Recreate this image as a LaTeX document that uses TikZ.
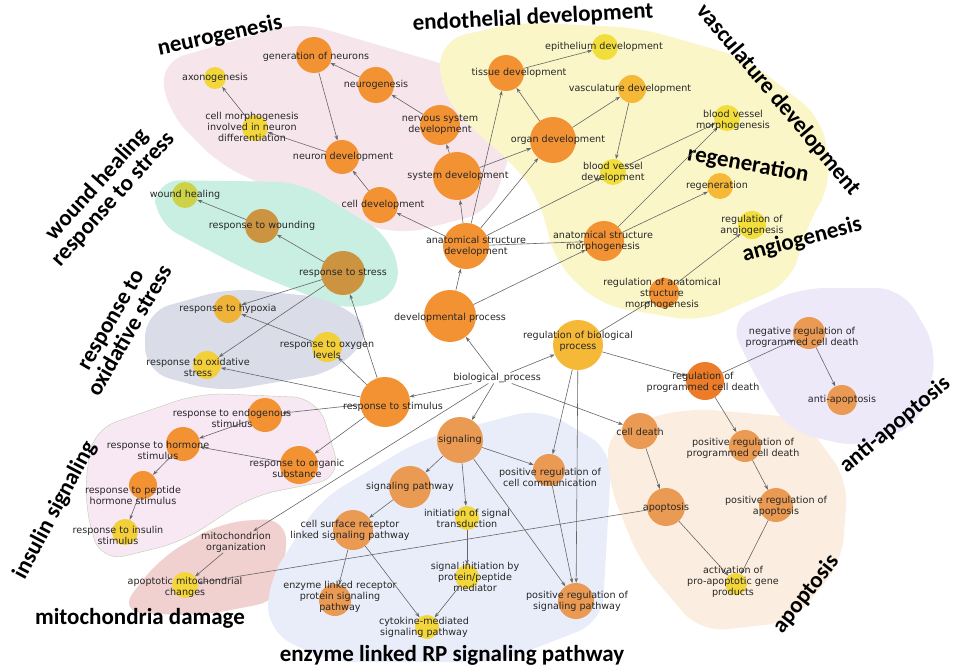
\documentclass[tikz,border=0pt]{standalone}
\usepackage{fontspec}
\setmainfont{DejaVu Sans}
\newfontfamily\headfont{Carlito}
\usetikzlibrary{arrows.meta}
\definecolor{gorange}{RGB}{243,146,51}
\definecolor{gdark}{RGB}{236,124,40}
\definecolor{ggold}{RGB}{245,184,55}
\definecolor{gyellow}{RGB}{242,222,58}
\definecolor{gbrown}{RGB}{204,148,64}
\definecolor{glight}{RGB}{234,154,82}
\definecolor{gwound}{RGB}{205,210,70}
\definecolor{bneuro}{RGB}{246,230,236}
\definecolor{bvasc}{RGB}{251,246,200}
\definecolor{bwound}{RGB}{200,239,226}
\definecolor{boxid}{RGB}{218,221,232}
\definecolor{binsul}{RGB}{248,232,243}
\definecolor{binsuledge}{RGB}{190,205,170}
\definecolor{bmito}{RGB}{241,208,208}
\definecolor{benzyme}{RGB}{233,237,249}
\definecolor{bapop}{RGB}{251,238,224}
\definecolor{banti}{RGB}{237,233,249}
\tikzset{
  go/.style={circle,draw=none,fill=#1,inner sep=0pt},
  lbl/.style={font=\fontsize{9.6}{11}\selectfont,align=center,inner sep=0.5pt,text=black!85},
  edge/.style={draw=black!60,line width=0.6pt,-{Stealth[length=5pt,width=3.5pt]}},
  head/.style={font=\headfont\bfseries\fontsize{23}{22}\selectfont,align=center},
  blob/.style={draw=none,fill=#1,rounded corners=25pt}
}
\begin{document}
\begin{tikzpicture}[x=1pt,y=1pt,yscale=-1]
\useasboundingbox (0,0) rectangle (959,669);
\fill[white] (0,0) rectangle (959,669);
% regions
\path[blob=bneuro] (160,62) -- (300,22) -- (470,72) -- (515,140) -- (490,212) -- (400,235) -- (320,210) -- (220,165) -- (168,112) -- cycle;
\path[blob=bvasc] (440,40) -- (520,22) -- (640,28) -- (745,58) -- (822,118) -- (832,182) -- (805,230) -- (792,282) -- (700,322) -- (600,305) -- (555,262) -- (540,200) -- (515,165) -- (478,135) -- (440,92) -- cycle;
\path[blob=bwound] (155,180) -- (300,182) -- (392,238) -- (402,292) -- (350,312) -- (250,272) -- (155,222) -- cycle;
\path[blob=boxid] (145,312) -- (230,288) -- (330,298) -- (375,330) -- (335,372) -- (220,392) -- (145,372) -- cycle;
\path[blob=binsul,draw=binsuledge] (92,430) -- (200,393) -- (318,398) -- (342,478) -- (252,496) -- (182,542) -- (100,562) -- (84,500) -- cycle;
\path[blob=bmito] (160,558) -- (222,522) -- (288,518) -- (282,600) -- (200,616) -- (118,612) -- cycle;
\path[blob=benzyme] (268,582) -- (320,500) -- (420,440) -- (540,408) -- (612,450) -- (602,622) -- (500,662) -- (330,662) -- (268,632) -- cycle;
\path[blob=bapop] (608,428) -- (690,408) -- (802,418) -- (848,480) -- (842,562) -- (792,622) -- (700,632) -- (640,562) -- (608,482) -- cycle;
\path[blob=banti] (728,320) -- (800,288) -- (902,288) -- (938,350) -- (922,422) -- (862,448) -- (790,432) -- (758,382) -- cycle;
% headings
\node[head,rotate=12] at (220,36) {neurogenesis};
\node[head,rotate=3] at (533,18) {endothelial development};
\node[head,rotate=-50] at (778,100) {vasculature development};
\node[head,rotate=-10] at (748,165) {regeneration};
\node[head,rotate=15] at (802,240) {angiogenesis};
\node[head,rotate=48] at (105,192) {wound healing\\response to stress};
\node[head,rotate=60] at (120,325) {response to\\oxidative stress};
\node[head,rotate=62] at (55,510) {insulin signaling};
\node[head] at (140,618) {mitochondria damage};
\node[head] at (452,655) {enzyme linked RP signaling pathway};
\node[head,rotate=40] at (895,425) {anti-apoptosis};
\node[head,rotate=52] at (806,594) {apoptosis};
% circles
\node[go=gorange,minimum size=36pt] (gen) at (314,55) {};
\node[go=gyellow!80!ggold,minimum size=22pt] (axon) at (215,78) {};
\node[go=gorange,minimum size=36pt] (neuro) at (376,85) {};
\node[go=gyellow!80!ggold,minimum size=26pt] (cmorph) at (255,128) {};
\node[go=gorange,minimum size=40pt] (nerv) at (440,125) {};
\node[go=gorange,minimum size=34pt] (neurdev) at (342,157) {};
\node[go=gorange,minimum size=48pt] (sysdev) at (457,176) {};
\node[go=gorange,minimum size=36pt] (celldev) at (380,205) {};
\node[go=gorange,minimum size=46pt] (asdev) at (466,246) {};
\node[go=gorange,minimum size=52pt] (devproc) at (450,316) {};
\node[go=gwound,minimum size=26pt] (wound) at (185,195) {};
\node[go=gbrown,minimum size=34pt] (rwound) at (262,226) {};
\node[go=gbrown,minimum size=44pt] (rstress) at (343,273) {};
\node[go=ggold!85!gbrown,minimum size=28pt] (hypox) at (228,309) {};
\node[go=gyellow!60!ggold,minimum size=30pt] (oxy) at (327,347) {};
\node[go=gyellow!60!ggold,minimum size=28pt] (oxid) at (207,365) {};
\node[go=gorange,minimum size=50pt] (rstim) at (385,402) {};
\node[inner sep=1pt,lbl] (bio) at (497,378) {biological\_process};
\node[go=gorange,minimum size=34pt] (endo) at (265,415) {};
\node[go=gorange,minimum size=34pt] (horm) at (183,444) {};
\node[go=gorange,minimum size=38pt] (organic) at (299,465) {};
\node[go=gorange,minimum size=28pt] (pept) at (143,485) {};
\node[go=gyellow!60!ggold,minimum size=26pt] (insul) at (125,532) {};
\node[lbl] (mito) at (236,542) {mitochondrion\\organization};
\node[go=gyellow!80!ggold,minimum size=26pt] (apmito) at (185,585) {};
\node[go=glight,minimum size=46pt] (sig) at (460,440) {};
\node[go=glight,minimum size=42pt] (sigpath) at (410,487) {};
\node[go=glight,minimum size=32pt] (prcc) at (549,470) {};
\node[go=gyellow!80!ggold,minimum size=24pt] (init) at (467,518) {};
\node[go=glight,minimum size=40pt] (csr) at (353,530) {};
\node[go=gyellow!80!ggold,minimum size=24pt] (sinit) at (467,577) {};
\node[go=glight,minimum size=32pt] (enz) at (335,600) {};
\node[go=gyellow!80!ggold,minimum size=24pt] (cyto) at (427,627) {};
\node[go=glight,minimum size=36pt] (prsp) at (576,601) {};
\node[go=ggold,minimum size=50pt] (regbio) at (578,345) {};
\node[go=gdark,minimum size=38pt] (regpcd) at (705,381) {};
\node[go=glight,minimum size=32pt] (negpcd) at (809,333) {};
\node[go=glight,minimum size=30pt] (anti) at (842,400) {};
\node[go=glight,minimum size=36pt] (cdeath) at (640,431) {};
\node[go=glight,minimum size=32pt] (pospcd) at (745,446) {};
\node[go=glight,minimum size=38pt] (apop) at (666,507) {};
\node[go=glight,minimum size=34pt] (posapop) at (776,505) {};
\node[go=gyellow!80!ggold,minimum size=22pt] (activ) at (736,584) {};
\node[go=gorange,minimum size=36pt] (tissue) at (506,73) {};
\node[go=gyellow,minimum size=26pt] (epith) at (605,47) {};
\node[go=ggold,minimum size=28pt] (vasc) at (632,89) {};
\node[go=gorange,minimum size=46pt] (organ) at (553,140) {};
\node[go=gyellow,minimum size=26pt] (bvmorph) at (727,118) {};
\node[go=gyellow,minimum size=26pt] (bvdev) at (613,172) {};
\node[go=ggold,minimum size=26pt] (regen) at (720,186) {};
\node[go=gyellow,minimum size=28pt] (regang) at (752,225) {};
\node[go=gorange,minimum size=40pt] (asmorph) at (604,241) {};
\node[go=gorange,minimum size=30pt] (regasm) at (664,293) {};
% edges
\foreach \a/\b in {neuro/gen, gen/neurdev, nerv/neuro, cmorph/axon, neurdev/cmorph,
  sysdev/nerv, celldev/neurdev, asdev/celldev, asdev/sysdev, asdev/tissue, asdev/organ,
  asdev/bvdev, asdev/asmorph, sysdev/organ, devproc/asdev, devproc/asmorph, organ/tissue,
  organ/vasc, tissue/epith, vasc/bvdev, bvdev/bvmorph, asmorph/bvmorph, asmorph/regen,
  regasm/regang, regbio/regasm, bio/devproc, bio/regbio, bio/rstim, bio/sig, bio/cdeath,
  bio/mito, rstress/rwound, rwound/wound, rstress/hypox, oxy/hypox, rstress/oxid,
  rstim/rstress, rstim/oxy, rstim/oxid, rstim/endo, rstim/organic, endo/horm, organic/horm,
  horm/pept, pept/insul, mito/apmito, apop/apmito, sig/sigpath, sig/init, sig/prcc, sig/prsp,
  sigpath/csr, csr/enz, csr/cyto, init/sinit, sinit/cyto, regbio/prcc, regbio/prsp, prcc/prsp,
  regbio/regpcd, regpcd/negpcd, negpcd/anti, regpcd/pospcd, pospcd/posapop, posapop/activ,
  apop/activ, cdeath/apop}
  \draw[edge] (\a) -- (\b);
% labels
\node[lbl] at (316,57) {generation of neurons};
\node[lbl] at (215,78) {axonogenesis};
\node[lbl] at (376,85) {neurogenesis};
\node[lbl] at (252,127) {cell morphogenesis\\involved in neuron\\differentiation};
\node[lbl] at (440,125) {nervous system\\development};
\node[lbl] at (343,157) {neuron development};
\node[lbl] at (458,176) {system development};
\node[lbl] at (383,205) {cell development};
\node[lbl] at (476,246) {anatomical structure\\development};
\node[lbl] at (450,318) {developmental process};
\node[lbl] at (185,195) {wound healing};
\node[lbl] at (262,226) {response to wounding};
\node[lbl] at (343,273) {response to stress};
\node[lbl] at (228,309) {response to hypoxia};
\node[lbl] at (327,350) {response to oxygen\\levels};
\node[lbl] at (198,367) {response to oxidative\\stress};
\node[lbl] at (393,407) {response to stimulus};
\node[lbl] at (232,418) {response to endogenous\\stimulus};
\node[lbl] at (158,450) {response to hormone\\stimulus};
\node[lbl] at (297,468) {response to organic\\substance};
\node[lbl] at (133,495) {response to peptide\\hormone stimulus};
\node[lbl] at (118,535) {response to insulin\\stimulus};
\node[lbl] at (185,587) {apoptotic mitochondrial\\changes};
\node[lbl] at (460,440) {signaling};
\node[lbl] at (410,487) {signaling pathway};
\node[lbl] at (550,477) {positive regulation of\\cell communication};
\node[lbl] at (467,518) {initiation of signal\\transduction};
\node[lbl] at (350,530) {cell surface receptor\\linked signaling pathway};
\node[lbl] at (475,577) {signal initiation by\\protein/peptide\\mediator};
\node[lbl] at (340,597) {enzyme linked receptor\\protein signaling\\pathway};
\node[lbl] at (424,627) {cytokine-mediated\\signaling pathway};
\node[lbl] at (577,601) {positive regulation of\\signaling pathway};
\node[lbl] at (578,341) {regulation of biological\\process};
\node[lbl] at (703,382) {regulation of\\programmed cell death};
\node[lbl] at (802,337) {negative regulation of\\programmed cell death};
\node[lbl] at (842,400) {anti-apoptosis};
\node[lbl] at (640,432) {cell death};
\node[lbl] at (743,448) {positive regulation of\\programmed cell death};
\node[lbl] at (666,508) {apoptosis};
\node[lbl] at (776,506) {positive regulation of\\apoptosis};
\node[lbl] at (733,582) {activation of\\pro-apoptotic gene\\products};
\node[lbl] at (519,73) {tissue development};
\node[lbl] at (604,47) {epithelium development};
\node[lbl] at (630,89) {vasculature development};
\node[lbl] at (558,140) {organ development};
\node[lbl] at (733,120) {blood vessel\\morphogenesis};
\node[lbl] at (613,172) {blood vessel\\development};
\node[lbl] at (717,186) {regeneration};
\node[lbl] at (752,225) {regulation of\\angiogenesis};
\node[lbl] at (603,241) {anatomical structure\\morphogenesis};
\node[lbl] at (662,294) {regulation of anatomical\\structure\\morphogenesis};
\end{tikzpicture}
\end{document}
